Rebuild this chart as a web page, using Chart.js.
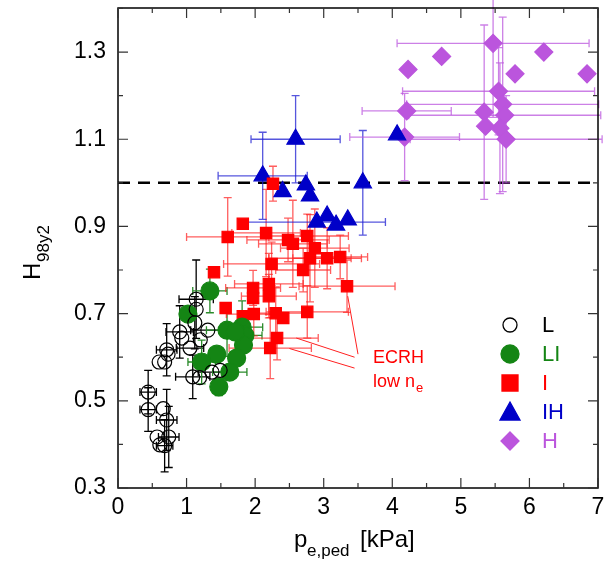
<!DOCTYPE html>
<html><head><meta charset="utf-8">
<script src="https://cdn.jsdelivr.net/npm/chart.js@4/dist/chart.umd.min.js"></script>
<style>html,body{margin:0;padding:0;background:#fff;overflow:hidden}canvas{display:block}</style>
</head><body><canvas id="c" width="604" height="573" style="width:604px;height:573px"></canvas>
<script>
// series: x = p_e,ped [kPa], y = H98y2, xe/ye = error half-widths
const L_x = [1.14,1.14,1.12,0.90,0.93,1.31,1.20,1.05,0.71,0.73,0.60,0.68,1.09,1.19,1.37,1.49,0.44,0.44,0.66,0.71,0.57,0.74,0.61,0.68];
const L_y = [0.733,0.710,0.679,0.658,0.644,0.662,0.640,0.621,0.617,0.607,0.589,0.589,0.555,0.553,0.566,0.570,0.520,0.480,0.482,0.456,0.417,0.417,0.399,0.397];
const L_xe = [0.25,0,0,0.2,0,0.25,0,0.2,0.15,0,0,0,0.25,0,0.2,0,0.12,0.12,0,0.15,0,0.15,0,0.12];
const L_ye = [0.09,0,0.06,0.06,0,0,0,0,0.06,0,0,0,0.05,0,0,0,0.05,0.05,0,0.07,0,0.07,0,0.06];
const LI_x = [1.34,1.02,1.59,1.81,1.85,1.83,1.44,1.22,1.73,1.63,1.47,1.71];
const LI_y = [0.752,0.699,0.662,0.669,0.650,0.628,0.607,0.589,0.598,0.566,0.532,0.658];
const LI_xe = [0.25,0,0.3,0.3,0.25,0,0,0.2,0,0.25,0,0];
const LI_ye = [0.05,0,0.06,0.06,0,0,0,0.05,0,0,0.02,0];
const I_x = [1.60,1.82,2.16,2.48,2.55,2.76,2.87,2.80,2.24,2.70,3.05,3.24,1.40,1.97,2.20,1.97,2.20,3.34,1.57,1.82,1.98,2.30,2.41,2.76,2.32,2.22,2.26];
const I_y = [0.876,0.906,0.885,0.869,0.860,0.878,0.850,0.827,0.814,0.800,0.827,0.830,0.795,0.759,0.768,0.736,0.740,0.763,0.713,0.694,0.699,0.701,0.690,0.704,0.644,0.621,0.998];
const I_xe = [0.6,0,0.5,0.6,0.5,0.6,0.5,0.6,0.7,0.4,0.5,0.4,0,0.4,0.5,0,0.4,0.7,0,0,0.4,0.4,0,0.6,0.6,0.6,0];
const I_ye = [0.09,0,0.1,0.05,0.1,0.05,0.09,0.1,0.05,0.05,0.07,0.05,0,0.04,0.07,0,0.05,0.06,0,0,0.05,0.06,0,0.06,0.05,0.07,0.04];
const IH_x = [2.11,2.59,2.40,2.74,2.80,3.57,4.07,3.05,2.90,3.18,3.35];
const IH_y = [1.016,1.100,0.980,0.995,0.970,1.000,1.110,0.924,0.910,0.903,0.915];
const IH_xe = [0.65,0.65,0,0,0,0,0,0,1.0,0,0];
const IH_ye = [0.1,0.1,0,0,0,0.12,0,0,0,0,0];
const H_x = [4.23,4.72,5.47,6.21,5.79,6.84,4.21,4.18,5.34,5.55,5.61,5.64,5.36,5.57,5.66];
const H_y = [1.26,1.29,1.32,1.30,1.25,1.25,1.165,1.105,1.162,1.21,1.18,1.155,1.13,1.125,1.10];
const H_xe = [0,0,1.4,0,0,0,0.65,0.8,0,1.4,1.4,1.4,0,0,1.4];
const H_ye = [0,0,0.17,0,0,0,0,0.1,0.2,0.1,0.2,0,0,0.15,0.1];
const xTicks = [0,1,2,3,4,5,6,7];
const yTicks = [0.3,0.5,0.7,0.9,1.1,1.3];

function pts(x,y,xe,ye){return x.map((v,i)=>({x:v,y:y[i],xe:xe[i],ye:ye[i]}));}
const series=[
 {label:'L',d:pts(L_x,L_y,L_xe,L_ye),style:'circle',bg:'rgba(0,0,0,0)',bc:'#000',r:7,eb:'#000',tc:'#000'},
 {label:'LI',d:pts(LI_x,LI_y,LI_xe,LI_ye),style:'circle',bg:'#148514',bc:'#148514',r:9,eb:'#2a8a2a',tc:'#148514'},
 {label:'I',d:pts(I_x,I_y,I_xe,I_ye),style:'rect',bg:'#ff0000',bc:'#ff0000',r:8,eb:'rgba(255,40,40,0.75)',tc:'#ff0000'},
 {label:'IH',d:pts(IH_x,IH_y,IH_xe,IH_ye),style:'triangle',bg:'#0000c8',bc:'#0000c8',r:10,eb:'rgba(30,30,210,0.75)',tc:'#0000c8'},
 {label:'H',d:pts(H_x,H_y,H_xe,H_ye),style:'rectRot',bg:'#bb55dd',bc:'#bb55dd',r:9,eb:'rgba(187,85,221,0.75)',tc:'#bb55dd'}
];
const FONT='"Liberation Sans", Arial, sans-serif';
const errPlugin={id:'err',beforeDatasetsDraw(ch){
 const c=ch.ctx,xs=ch.scales.x,ys=ch.scales.y;c.save();
 c.strokeStyle='#000';c.lineWidth=2.5;c.setLineDash([12,8]);c.beginPath();
 c.moveTo(ch.chartArea.left,ys.getPixelForValue(1.0));c.lineTo(ch.chartArea.right,ys.getPixelForValue(1.0));c.stroke();c.setLineDash([]);
 c.lineWidth=1.3;
 series.forEach(s=>{c.strokeStyle=s.eb;s.d.forEach(p=>{
  const px=xs.getPixelForValue(p.x),py=ys.getPixelForValue(p.y);c.beginPath();
  if(p.xe){const a=xs.getPixelForValue(p.x-p.xe),b=xs.getPixelForValue(p.x+p.xe);c.moveTo(a,py);c.lineTo(b,py);c.moveTo(a,py-4);c.lineTo(a,py+4);c.moveTo(b,py-4);c.lineTo(b,py+4);}
  if(p.ye){const a=ys.getPixelForValue(p.y-p.ye),b=ys.getPixelForValue(p.y+p.ye);c.moveTo(px,a);c.lineTo(px,b);c.moveTo(px-4,a);c.lineTo(px+4,a);c.moveTo(px-4,b);c.lineTo(px+4,b);}
  c.stroke();});});
 c.restore();},
 afterDraw(ch){
 const c=ch.ctx,xs=ch.scales.x,ys=ch.scales.y,A=ch.chartArea;c.save();
 c.strokeStyle='#000';c.lineWidth=1.5;c.strokeRect(A.left,A.top,A.right-A.left,A.bottom-A.top);
 c.lineWidth=1.2;c.strokeStyle='#333';
 for(let v=0;v<=7.001;v+=0.5){const px=xs.getPixelForValue(v),l=(Math.abs(v-Math.round(v))<1e-6)?10:5;
  c.beginPath();c.moveTo(px,A.bottom);c.lineTo(px,A.bottom-l);c.moveTo(px,A.top);c.lineTo(px,A.top+l);c.stroke();}
 for(let v=0.3;v<=1.401;v+=0.1){const py=ys.getPixelForValue(v),l=(Math.round(v*10)%2===1)?10:5;
  c.beginPath();c.moveTo(A.left,py);c.lineTo(A.left+l,py);c.moveTo(A.right,py);c.lineTo(A.right-l,py);c.stroke();}
 c.fillStyle='#000';c.font='23px '+FONT;c.textAlign='center';c.textBaseline='top';
 xTicks.forEach(v=>c.fillText(String(v),xs.getPixelForValue(v),A.bottom+8));
 c.textAlign='right';c.textBaseline='middle';
 yTicks.forEach(v=>c.fillText(v.toFixed(1),A.left-12,ys.getPixelForValue(v)));
 c.textAlign='left';c.textBaseline='alphabetic';c.font='24px '+FONT;
 c.fillText('p',294,547);c.font='17px '+FONT;c.fillText('e,ped',307,556);c.font='24px '+FONT;c.fillText('[kPa]',360,547);
 c.translate(40,248);c.rotate(-Math.PI/2);c.font='24px '+FONT;c.fillText('H',-32,0);c.font='17px '+FONT;c.fillText('98y2',-14,9);
 c.setTransform(1,0,0,1,0,0);
 c.strokeStyle='#ff2020';c.lineWidth=1;c.beginPath();
 c.moveTo(xs.getPixelForValue(3.35),ys.getPixelForValue(0.74));c.lineTo(xs.getPixelForValue(3.5),ys.getPixelForValue(0.607));
 c.moveTo(xs.getPixelForValue(2.6),ys.getPixelForValue(0.644));c.lineTo(xs.getPixelForValue(3.45),ys.getPixelForValue(0.6));
 c.moveTo(xs.getPixelForValue(2.5),ys.getPixelForValue(0.62));c.lineTo(xs.getPixelForValue(3.45),ys.getPixelForValue(0.575));
 c.stroke();
 c.fillStyle='#ff0000';c.font='18px '+FONT;c.textAlign='left';c.fillText('ECRH',373,363);c.fillText('low n',373,387);
 const w=c.measureText('low n').width;c.font='13px '+FONT;c.fillText('e',373+w+1,392);
 const lx=510,ly0=325,dy=29;
 series.forEach((s,i)=>{const y=ly0+i*dy,x=lx;c.fillStyle=s.bg;c.strokeStyle=s.bc;c.lineWidth=1.3;c.beginPath();
  if(s.style==='circle'){c.arc(x,y,s.r,0,2*Math.PI);}
  else if(s.style==='rect'){c.rect(x-8,y-8,16,16);}
  else if(s.style==='triangle'){c.moveTo(x,y-10);c.lineTo(x+10,y+8);c.lineTo(x-10,y+8);c.closePath();}
  else {c.moveTo(x,y-9);c.lineTo(x+9,y);c.lineTo(x,y+9);c.lineTo(x-9,y);c.closePath();}
  if(s.label!=='L')c.fill();c.stroke();
  c.fillStyle=s.tc;c.font='22px '+FONT;c.textBaseline='middle';c.fillText(s.label,x+32,y+1);});
 c.restore();}};
new Chart(document.getElementById('c'),{type:'scatter',
 data:{datasets:series.map(s=>({label:s.label,data:s.d,pointStyle:s.style,backgroundColor:s.bg,borderColor:s.bc,pointRadius:s.r,pointBorderWidth:1.2,pointHoverRadius:s.r}))},
 options:{responsive:false,animation:false,events:[],devicePixelRatio:1,
  layout:{autoPadding:false,padding:{left:118,right:6,top:8,bottom:85}},
  plugins:{legend:{display:false},tooltip:{enabled:false}},
  scales:{x:{display:false,min:0,max:7},y:{display:false,min:0.3,max:1.401}}},
 plugins:[errPlugin]});
</script></body></html>
